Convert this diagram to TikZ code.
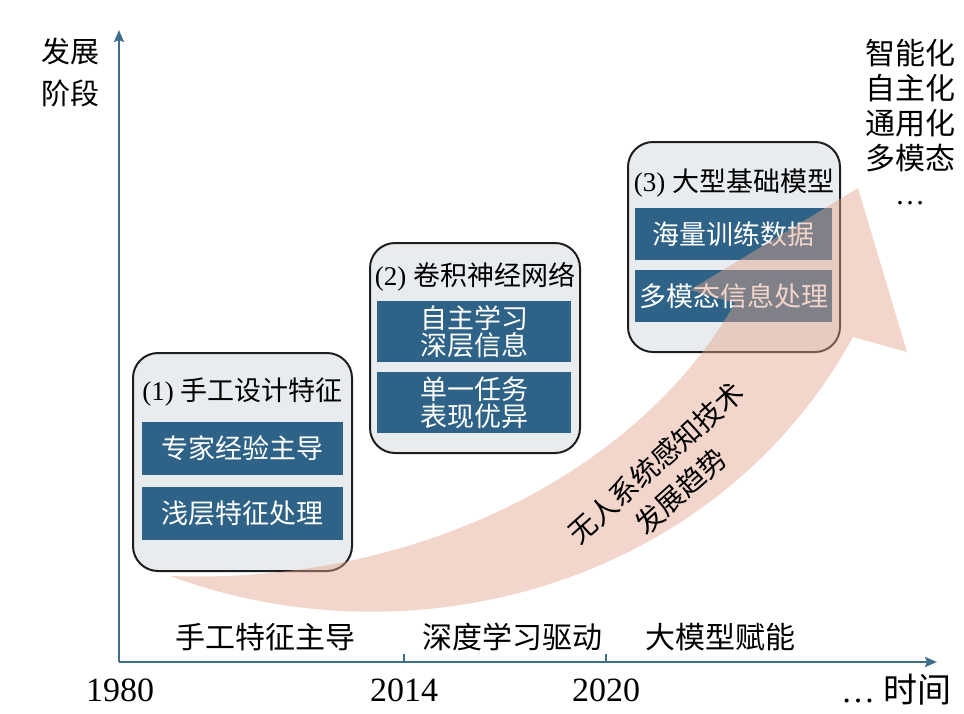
\documentclass[tikz,border=0pt]{standalone}
\usepackage{fontspec}
\setmainfont{Liberation Serif}
\newfontfamily\cjk{Noto Sans CJK SC}
\usetikzlibrary{arrows.meta}
\definecolor{axisblue}{HTML}{3E6E8C}
\definecolor{itemblue}{HTML}{2E6387}
\definecolor{panelbg}{HTML}{E9ECEF}
\definecolor{panelline}{HTML}{1E1E1E}
\definecolor{trendpink}{HTML}{E4A48B}
\tikzset{
  panel/.style ={draw=panelline, fill=panelbg, rounded corners=12.5pt,
                 line width=1pt, inner sep=0pt},
  item/.style  ={fill=itemblue, text=white, align=center, inner sep=0pt,
                 font=\cjk\fontsize{13.5}{13.5}\selectfont},
  ptitle/.style={inner sep=0pt, font=\fontsize{13.5}{16}\selectfont},
  axisline/.style={draw=axisblue, line width=1.2pt},
  axisarrow/.style={axisline, -{Stealth[length=6pt, width=5pt, inset=1pt]}},
  year/.style  ={inner sep=0pt, font=\fontsize{17}{17}\selectfont},
  phase/.style ={inner sep=0pt, font=\cjk\fontsize{15}{15}\selectfont},
  trend/.style ={fill=trendpink, fill opacity=0.45},
}

\begin{document}
\begin{tikzpicture}[x=0.5pt, y=-0.5pt]
\useasboundingbox (0,0) rectangle (964,713);

% ---------------------------------------------------------------- axes
\coordinate (O)    at (119,662);
\coordinate (ytop) at (119,30);
\coordinate (xend) at (937,662);
\coordinate (t2014) at (404,662);
\coordinate (t2020) at (606,662);
\draw[axisarrow] (O) -- (ytop);
\draw[axisarrow] (O) -- (xend);
\draw[axisline] (t2014) -- ++(0,-8);
\draw[axisline] (t2020) -- ++(0,-8);

\node[align=center, inner sep=0pt, font=\cjk\fontsize{14.5}{21}\selectfont]
  (ylabel) at (70,72) {发展\\阶段};

\node[year] (y1980) at (120,690) {1980};
\node[year] (y2014) at (404,690) {2014};
\node[year] (y2020) at (606,690) {2020};
\node[year, anchor=east] (xlabel) at (952,690) {… {\cjk 时间}};

\node[phase] (ph1) at (265,637) {手工特征主导};
\node[phase] (ph2) at (512,637) {深度学习驱动};
\node[phase] (ph3) at (720,637) {大模型赋能};

\node[align=center, inner sep=0pt, font=\cjk\fontsize{15}{17.5}\selectfont]
  (goals) at (910,122) {智能化\\自主化\\通用化\\多模态\\{\rmfamily …}};

% ---------------------------------------------------------------- stage 1
\node[panel, minimum width=109.5pt, minimum height=109pt] (p1) at (242.5,462) {};
\node[ptitle] (p1t) at (242.5,392) {(1) \cjk 手工设计特征};
\node[item, minimum width=100.5pt, minimum height=26.5pt] (p1a) at (242.5,448.5) {专家经验主导};
\node[item, minimum width=100.5pt, minimum height=26.5pt] (p1b) at (242.5,513.5) {浅层特征处理};

% ---------------------------------------------------------------- stage 2
\node[panel, minimum width=105pt, minimum height=105pt] (p2) at (475,348) {};
\node[ptitle] (p2t) at (475,277) {(2) \cjk 卷积神经网络};
\node[item, minimum width=97pt, minimum height=30.5pt] (p2a) at (474,331.5) {自主学习\\深层信息};
\node[item, minimum width=97pt, minimum height=30.5pt] (p2b) at (474,402.5) {单一任务\\表现优异};

% ---------------------------------------------------------------- stage 3
\node[panel, minimum width=106pt, minimum height=105pt] (p3) at (734,247) {};
\node[ptitle] (p3t) at (734,183) {(3) \cjk 大型基础模型};
\node[item, minimum width=98.5pt, minimum height=26pt] (p3a) at (733.5,234) {海量训练数据};
\node[item, minimum width=98.5pt, minimum height=26pt] (p3b) at (733.5,296) {多模态信息处理};

% ---------------------------------------------------------------- trend arrow
\coordinate (tail) at (170,576);
\fill[trend] (tail) .. controls (420,668) and (720,580) .. (853,337)
  -- (907,352) -- (858,188) -- (690,290) -- (735,303)
  .. controls (640,470) and (420,585) .. (tail) -- cycle;
\node[align=center, inner sep=0pt, rotate=42, font=\cjk\fontsize{14}{18.75}\selectfont]
  (trendlbl) at (668,477) {无人系统感知技术\\发展趋势};

\end{tikzpicture}
\end{document}
